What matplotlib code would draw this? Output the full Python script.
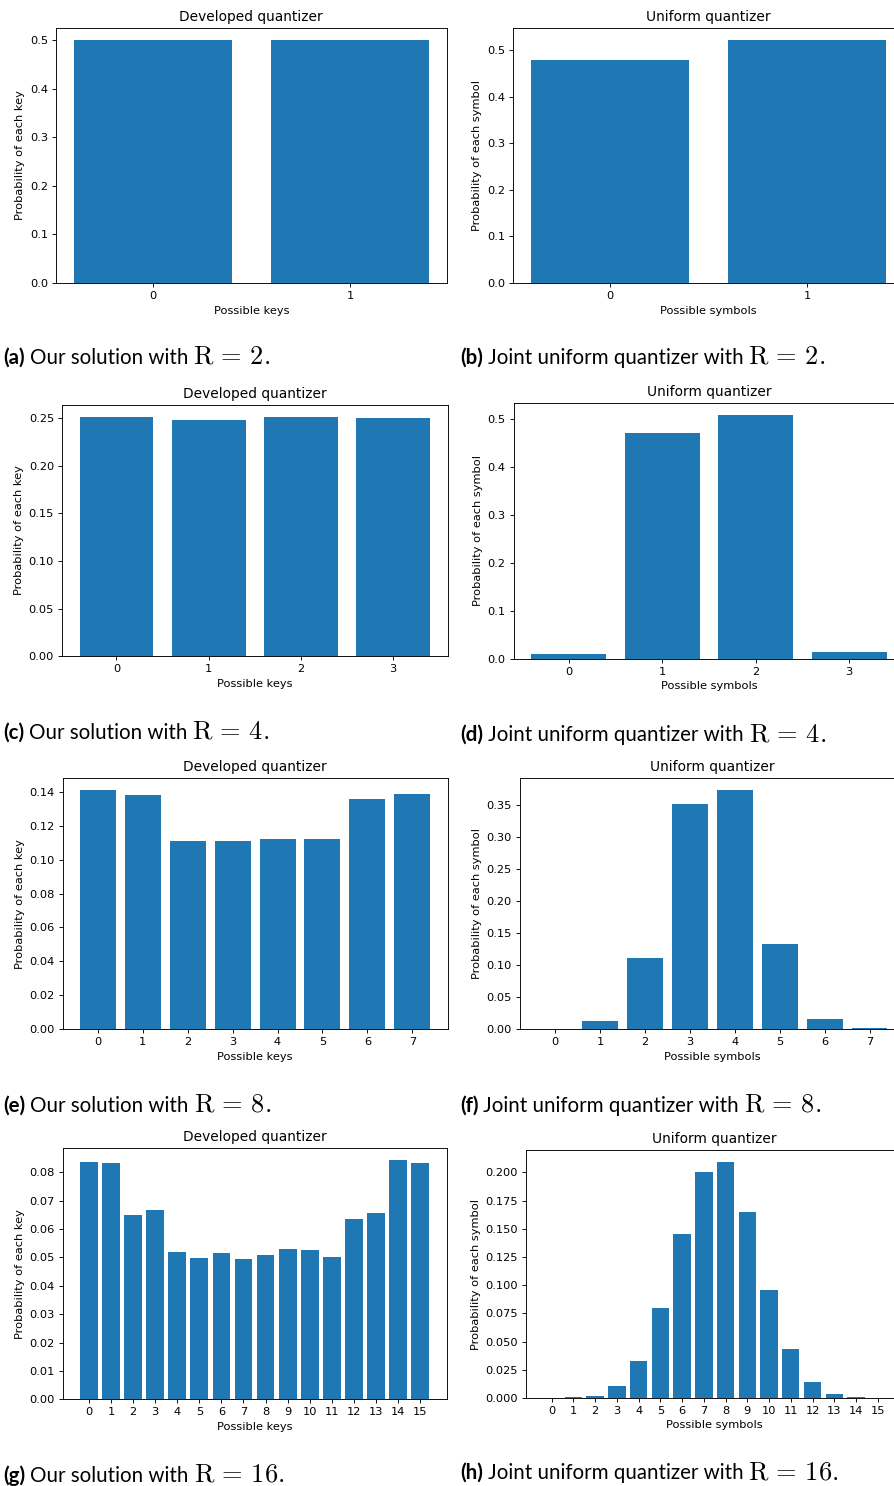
import numpy as np
import matplotlib.pyplot as plt
from matplotlib.ticker import MultipleLocator

plt.rcParams['mathtext.fontset'] = 'cm'

W, H = 894, 1486  # output size in pixels
BLUE = '#1f77b4'

# probability of each key / symbol
dev_r2 = [0.5, 0.5]
uni_r2 = [0.479, 0.521]
dev_r4 = [0.2515, 0.2485, 0.2515, 0.2500]
uni_r4 = [0.0098, 0.4695, 0.507, 0.0146]
dev_r8 = [0.1410, 0.1383, 0.1110, 0.1110, 0.1123, 0.1123, 0.1355, 0.1388]
uni_r8 = [0.0002, 0.0130, 0.1121, 0.3526, 0.3741, 0.1340, 0.0166, 0.0020]
dev_r16 = [0.0835, 0.0832, 0.0648, 0.0667, 0.0518, 0.0497, 0.0515, 0.0493,
           0.0510, 0.0530, 0.0525, 0.0500, 0.0635, 0.0656, 0.0843, 0.0832]
uni_r16 = [0.0002, 0.0012, 0.0021, 0.0104, 0.0326, 0.0797, 0.1455, 0.2000,
           0.2092, 0.1647, 0.0960, 0.0436, 0.0142, 0.0038, 0.0012, 0.0002]

rates = [2, 2, 4, 4, 8, 8, 16, 16]
tags = ['(a)', '(b)', '(c)', '(d)', '(e)', '(f)', '(g)', '(h)']
bodies = ['Our solution with', 'Joint uniform quantizer with'] * 4

series = [dev_r2, uni_r2, dev_r4, uni_r4, dev_r8, uni_r8, dev_r16, uni_r16]
ystep = [0.1, 0.1, 0.05, 0.1, 0.02, 0.05, 0.01, 0.025]

# axes boxes in pixels: left, top, right, bottom (right column runs off the page)
boxes = [(56, 28, 446.7, 283), (513, 28, 903.7, 283),
         (62, 404.7, 447.7, 656.3), (513.5, 403.3, 904.4, 658.7),
         (62.5, 778, 447.7, 1029.3), (519.5, 778, 905, 1029.3),
         (62.5, 1148, 446.6, 1399.3), (525.8, 1150.3, 903.6, 1398)]
# caption anchor (x, baseline y) in pixels
cap_pos = [(3, 364), (460, 364), (3, 739), (460, 741),
           (3, 1112), (460, 1111.5), (3, 1482), (460, 1479)]

fig = plt.figure(figsize=(W / 100, H / 100), dpi=100)
fs_tick = 8.2
fs_title = 9.9

for i, vals in enumerate(series):
    l, t, r, b = boxes[i]
    ax = fig.add_axes([l / W, 1 - b / H, (r - l) / W, (b - t) / H])
    x = np.arange(len(vals))
    ax.bar(x, vals, width=0.8, color=BLUE)
    ax.set_xticks(x)
    ax.yaxis.set_major_locator(MultipleLocator(ystep[i]))
    ax.tick_params(labelsize=fs_tick, length=2.9, width=0.65, pad=2.8)
    for s in ax.spines.values():
        s.set_linewidth(0.65)
    if i % 2 == 0:
        ax.set_title('Developed quantizer', fontsize=fs_title, pad=4.9)
        ax.set_xlabel('Possible keys', fontsize=fs_tick, labelpad=3.3)
        ax.set_ylabel('Probability of each key', fontsize=fs_tick, labelpad=3.3)
    else:
        ax.set_title('Uniform quantizer', fontsize=fs_title, pad=4.9)
        ax.set_xlabel('Possible symbols', fontsize=fs_tick, labelpad=3.3)
        ax.set_ylabel('Probability of each symbol', fontsize=fs_tick, labelpad=3.3)

# sub-figure captions: bold tag, sentence, then the rate in math type
renderer = fig.canvas.get_renderer()
for i in range(8):
    cx, cy = cap_pos[i]
    yf = 1 - cy / H
    tg = fig.text(cx / W, yf, tags[i], fontfamily='Lato',
                  fontweight='bold', fontsize=14.8, va='baseline')
    x1 = tg.get_window_extent(renderer).x1
    bd = fig.text((x1 + 5) / W, yf, bodies[i], fontfamily='Lato',
                  fontsize=14.8, va='baseline')
    x2 = bd.get_window_extent(renderer).x1
    fig.text((x2 + 5) / W, yf, r'$\mathrm{R}\,=\,%d.$' % rates[i],
             fontsize=19, va='baseline')

fig.savefig('out.png', dpi=100)
